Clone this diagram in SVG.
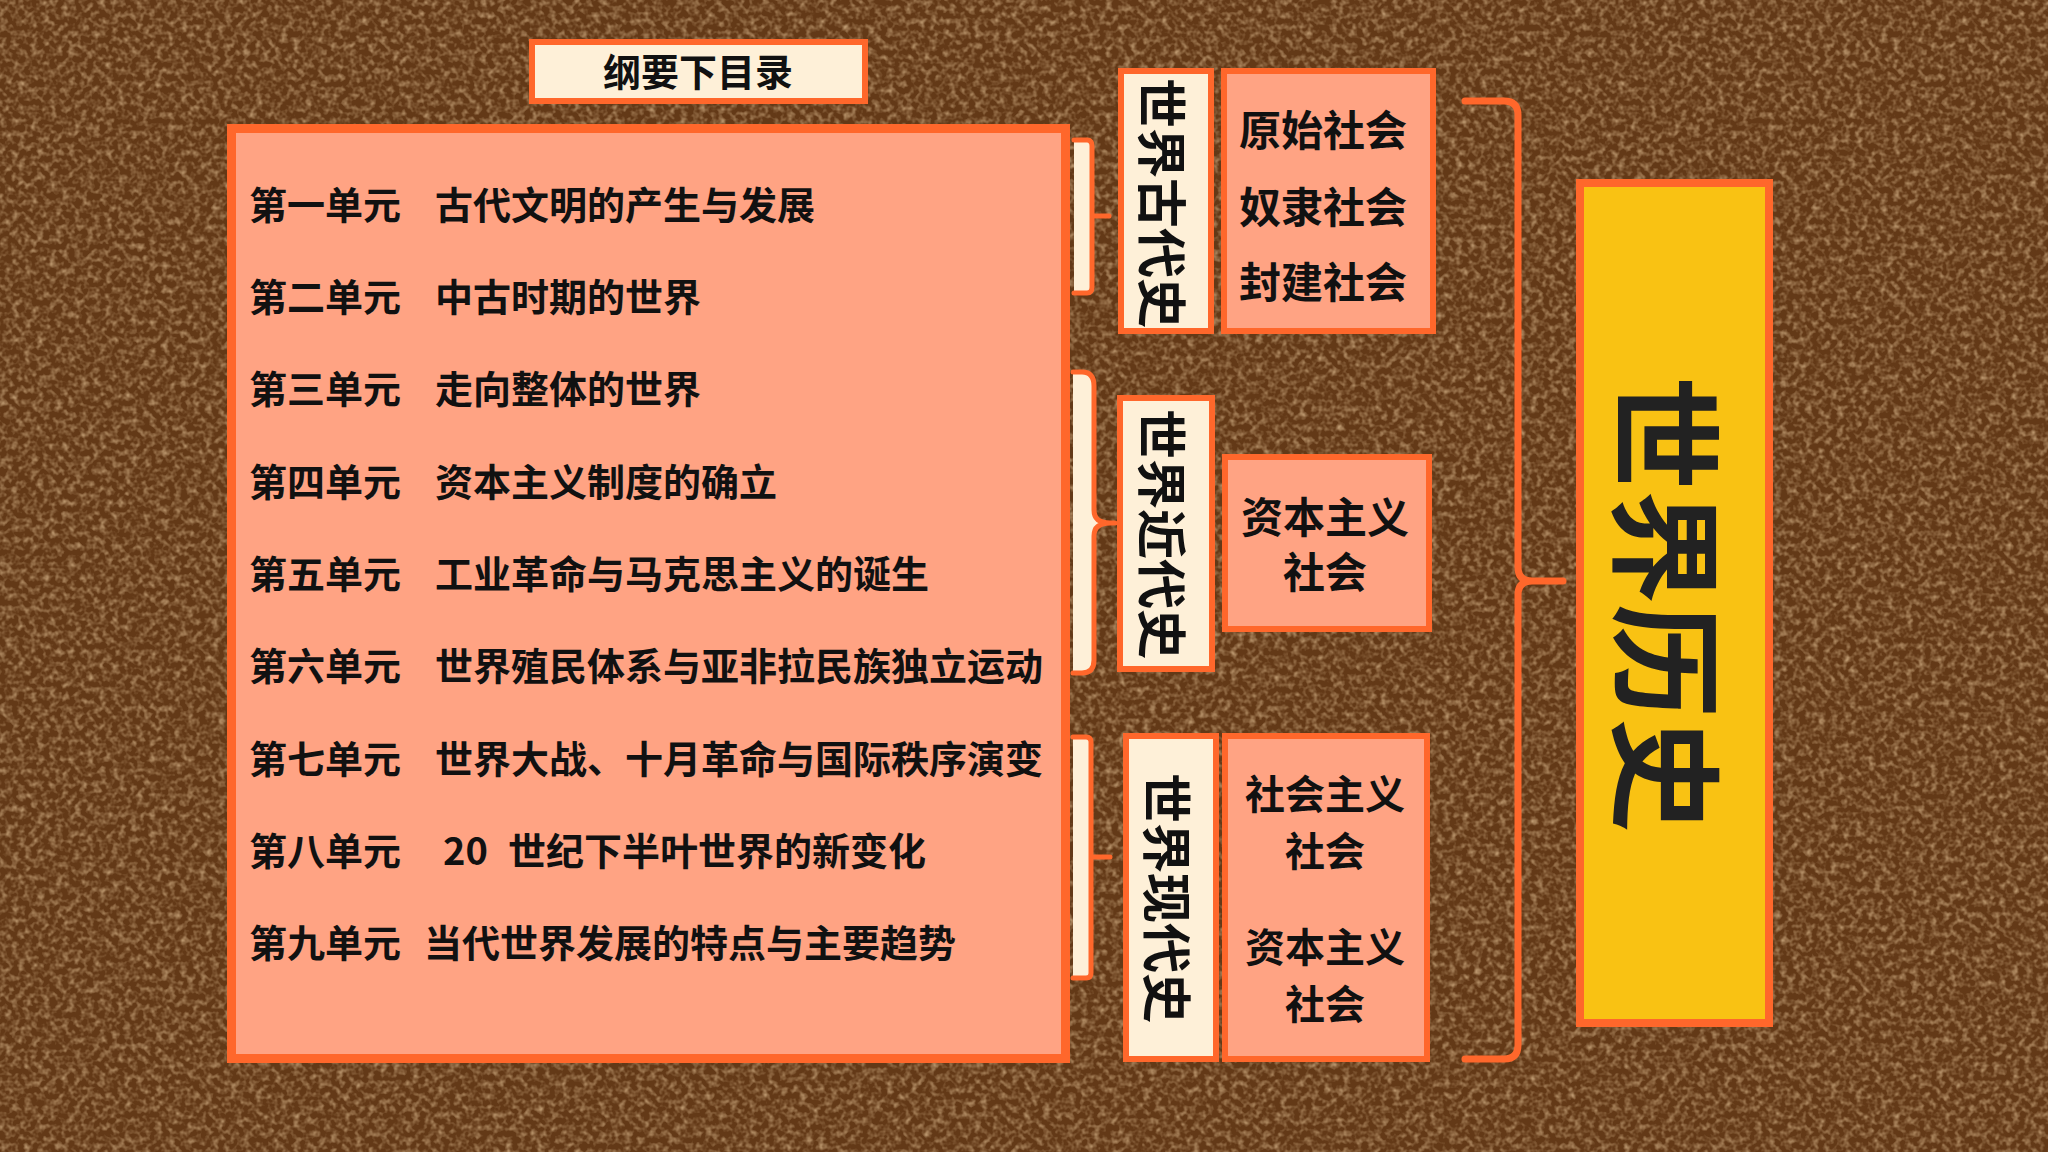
<svg xmlns="http://www.w3.org/2000/svg" width="2048" height="1152" viewBox="0 0 2048 1152">
<defs>
<filter id="leather" x="0" y="0" width="2048" height="1152" filterUnits="userSpaceOnUse">
<feTurbulence type="fractalNoise" baseFrequency="0.16" numOctaves="2" seed="7" result="n"/>
<feColorMatrix in="n" type="matrix" values="0 0 0 0 0.62  0 0 0 0 0.41  0 0 0 0 0.22  1.7 0 0 0 -0.72"/>
</filter>
<style>
.box{stroke:#FF672B;stroke-width:8}
.cream{fill:#FEF0D8}
.salmon{fill:#FFA383}
.br{fill:none;stroke:#FF672B;stroke-width:5;stroke-linecap:round;stroke-linejoin:round}
.t{font-family:"Noto Sans CJK SC","Noto Sans",sans-serif;font-weight:bold;fill:#111}
.li{font-size:38px}
.side{font-size:42px;text-anchor:middle}
.vt{font-size:50px;text-anchor:middle;dominant-baseline:central}
</style>
</defs>
<rect x="0" y="0" width="2048" height="1152" fill="#633917"/>
<rect x="0" y="0" width="2048" height="1152" fill="#fff" filter="url(#leather)"/>

<g id="title">
<rect x="532" y="42" width="333" height="59" class="box cream" style="stroke-width:6"/>
<text x="698" y="86" class="t" style="font-size:38px;text-anchor:middle">纲要下目录</text>
</g>

<g id="list">
<rect x="231.5" y="128.5" width="834" height="930" class="box salmon" style="stroke-width:9"/>
<text class="t li" y="219"><tspan x="249">第一单元</tspan><tspan x="435">古代文明的产生与发展</tspan></text>
<text class="t li" y="311"><tspan x="249">第二单元</tspan><tspan x="435">中古时期的世界</tspan></text>
<text class="t li" y="403"><tspan x="249">第三单元</tspan><tspan x="435">走向整体的世界</tspan></text>
<text class="t li" y="496"><tspan x="249">第四单元</tspan><tspan x="435">资本主义制度的确立</tspan></text>
<text class="t li" y="588"><tspan x="249">第五单元</tspan><tspan x="435">工业革命与马克思主义的诞生</tspan></text>
<text class="t li" y="680"><tspan x="249">第六单元</tspan><tspan x="435">世界殖民体系与亚非拉民族独立运动</tspan></text>
<text class="t li" y="773"><tspan x="249">第七单元</tspan><tspan x="435">世界大战、十月革命与国际秩序演变</tspan></text>
<text class="t li" y="865"><tspan x="249">第八单元</tspan><tspan x="443">20</tspan><tspan x="508">世纪下半叶世界的新变化</tspan></text>
<text class="t li" y="957"><tspan x="249">第九单元</tspan><tspan x="424">当代世界发展的特点与主要趋势</tspan></text>
</g>

<g id="ancient">
<rect x="1121" y="71" width="90" height="260" class="box cream" style="stroke-width:6"/>
<text class="t vt" transform="translate(1165,203) rotate(90)">世界古代史</text>
</g>
<g id="ancient-societies">
<rect x="1224" y="71" width="209" height="260" class="box salmon" style="stroke-width:6"/>
<text class="t side"><tspan x="1323" y="146">原始社会</tspan><tspan x="1323" y="223">奴隶社会</tspan><tspan x="1323" y="298">封建社会</tspan></text>
</g>

<g id="modern">
<rect x="1120" y="398" width="92" height="271" class="box cream" style="stroke-width:6"/>
<text class="t vt" transform="translate(1165,534) rotate(90)">世界近代史</text>
</g>
<g id="modern-society">
<rect x="1225" y="457" width="204" height="172" class="box salmon" style="stroke-width:6"/>
<text class="t side"><tspan x="1325" y="533">资本主义</tspan><tspan x="1325" y="588">社会</tspan></text>
</g>

<g id="contemporary">
<rect x="1126" y="736" width="90" height="323" class="box cream" style="stroke-width:6"/>
<text class="t vt" transform="translate(1170,898) rotate(90)">世界现代史</text>
</g>
<g id="contemporary-societies">
<rect x="1225" y="736" width="202" height="323" class="box salmon" style="stroke-width:6"/>
<text class="t side" style="font-size:40px"><tspan x="1325" y="809">社会主义</tspan><tspan x="1325" y="866">社会</tspan></text>
<text class="t side" style="font-size:40px"><tspan x="1325" y="962">资本主义</tspan><tspan x="1325" y="1019">社会</tspan></text>
</g>

<g id="world-history">
<rect x="1580" y="183" width="189" height="840" fill="#F9C213" class="box"/>
<text class="t" transform="translate(1672,604) rotate(90)" style="font-size:114px;text-anchor:middle;dominant-baseline:central;fill:#222">世界历史</text>
</g>

<g id="connectors">
<path d="M1074,140 L1087,140 Q1092,140 1092,146 L1092,287 Q1092,293 1087,293 L1074,293 Z" class="cream"/>
<path d="M1074,140 L1087,140 Q1092,140 1092,146 L1092,287 Q1092,293 1087,293 L1074,293 M1092,216 L1109,216" class="br"/>
<path d="M1073,372 L1082,372 Q1094,372 1094,386 L1094,510 Q1094,523 1110,523 Q1094,523 1094,536 L1094,660 Q1094,673 1082,673 L1073,673 Z" class="cream"/>
<path d="M1073,372 L1082,372 Q1094,372 1094,386 L1094,510 Q1094,523 1110,523 L1115,523 M1110,523 Q1094,523 1094,536 L1094,660 Q1094,673 1082,673 L1073,673" class="br"/>
<path d="M1073,737 L1086,737 Q1091,737 1091,742 L1091,973 Q1091,978 1086,978 L1073,978 Z" class="cream"/>
<path d="M1073,737 L1086,737 Q1091,737 1091,742 L1091,973 Q1091,978 1086,978 L1073,978 M1091,857 L1110,857" class="br"/>
<path d="M1465,101 L1504,101 Q1518,101 1518,115 L1518,567 Q1518,581 1532,581 L1563,581 M1532,581 Q1518,581 1518,595 L1518,1045 Q1518,1059 1504,1059 L1465,1059" class="br" style="stroke-width:7"/>
</g>
</svg>
